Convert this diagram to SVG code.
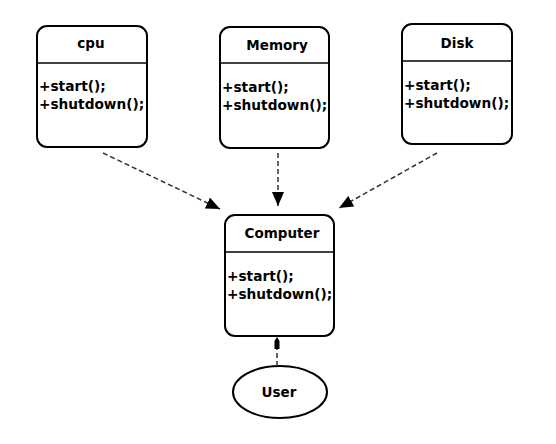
<svg xmlns="http://www.w3.org/2000/svg" width="556" height="444" viewBox="0 0 556 444">
<defs>
<style>
.box{fill:#fff;stroke:#000;stroke-width:2}
.div{stroke:#000;stroke-width:1.5}
.t{font-family:"DejaVu Sans",Verdana,sans-serif;font-weight:bold;font-size:13.5px;fill:#000;text-anchor:middle}
.m{font-family:"DejaVu Sans",Verdana,sans-serif;font-weight:bold;font-size:13.7px;fill:#000}
.dash{fill:none;stroke:#333;stroke-width:1.5;stroke-dasharray:5 3}
</style>
<marker id="arr" viewBox="0 0 14 12" refX="14" refY="6" markerWidth="14" markerHeight="12" markerUnits="userSpaceOnUse" orient="auto">
<path d="M0,0 L14,6 L0,12 z" fill="#000"/>
</marker>
</defs>
<rect width="556" height="444" fill="#fff"/>
<g id="cpu">
<rect class="box" x="37" y="26" width="110" height="121" rx="10"/>
<line class="div" x1="37" y1="63" x2="147" y2="63"/>
<text class="t" x="91" y="48">cpu</text>
<text class="m" x="39" y="91">+start();</text>
<text class="m" x="39" y="109">+shutdown();</text>
</g>
<g id="memory">
<rect class="box" x="220" y="27" width="109" height="121" rx="10"/>
<line class="div" x1="220" y1="63" x2="329" y2="63"/>
<text class="t" x="277" y="50">Memory</text>
<text class="m" x="222" y="92">+start();</text>
<text class="m" x="222" y="110">+shutdown();</text>
</g>
<g id="disk">
<rect class="box" x="402" y="24" width="110" height="120" rx="10"/>
<line class="div" x1="402" y1="61" x2="512" y2="61"/>
<text class="t" x="457" y="48">Disk</text>
<text class="m" x="404" y="90">+start();</text>
<text class="m" x="404" y="108">+shutdown();</text>
</g>
<g id="computer">
<rect class="box" x="225" y="215" width="109" height="121" rx="10"/>
<line class="div" x1="225" y1="252" x2="334" y2="252"/>
<text class="t" x="282" y="238">Computer</text>
<text class="m" x="227" y="281">+start();</text>
<text class="m" x="227" y="299">+shutdown();</text>
</g>
<g id="user">
<ellipse class="box" cx="280" cy="392" rx="47" ry="26"/>
<text class="t" x="279" y="397">User</text>
</g>
<g id="connectors">
<line class="dash" x1="103" y1="153" x2="220" y2="209" marker-end="url(#arr)"/>
<line class="dash" x1="278" y1="153" x2="278" y2="206" marker-end="url(#arr)"/>
<line class="dash" x1="437" y1="153" x2="339" y2="208" marker-end="url(#arr)"/>
<line class="dash" x1="277" y1="366" x2="277" y2="348"/>
<path d="M277,337 L279.5,341 L279.5,349 L274.5,349 L274.5,341 z" fill="#000"/>
</g>
</svg>
